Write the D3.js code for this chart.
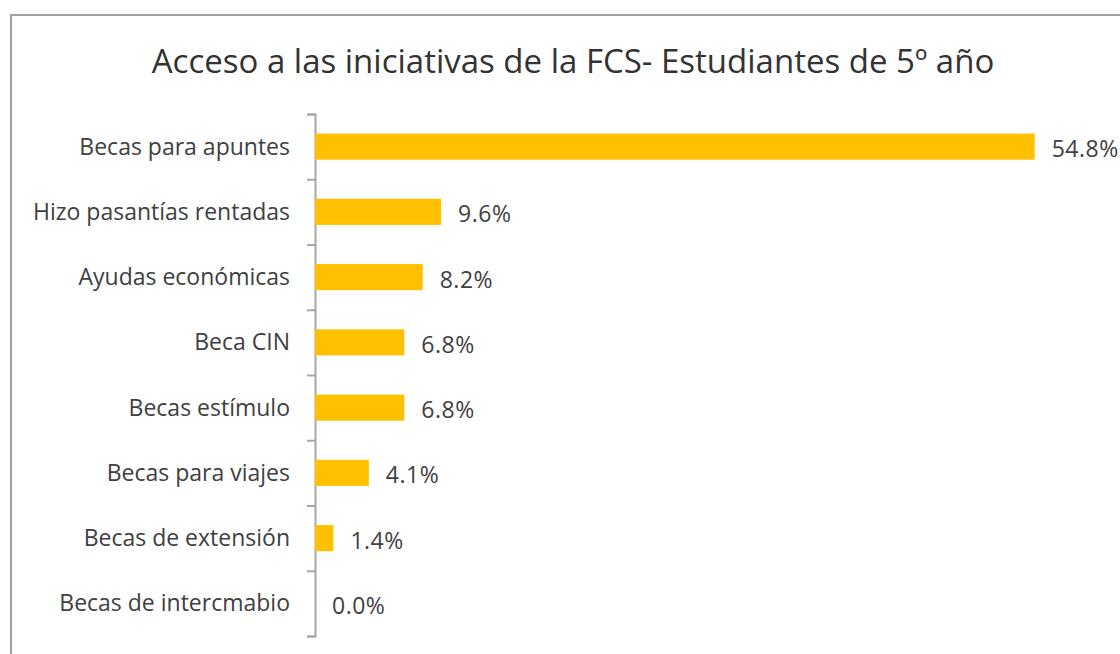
<!DOCTYPE html>
<html>
<head>
<meta charset="utf-8">
<script src="https://cdn.jsdelivr.net/npm/d3@7"></script>
<style>
  body { margin: 0; background: #fff; }
</style>
</head>
<body>
<div id="chart"></div>
<script>
'use strict'

var categories = [
  'Becas para apuntes',
  'Hizo pasantías rentadas',
  'Ayudas económicas',
  'Beca CIN',
  'Becas estímulo',
  'Becas para viajes',
  'Becas de extensión',
  'Becas de intercmabio'
]
var values = [54.8, 9.6, 8.2, 6.8, 6.8, 4.1, 1.4, 0.0]
var title = 'Acceso a las iniciativas de la FCS- Estudiantes de 5º año'

var width = 1120
var height = 654
var fontFam = "'Open Sans', 'DejaVu Sans', sans-serif"
var textColor = '#404040'

var svg = d3
  .select('#chart')
  .append('svg')
  .attr('width', width)
  .attr('height', height)

// frame
svg
  .append('rect')
  .attr('x', 11)
  .attr('y', 15)
  .attr('width', width + 20)
  .attr('height', height + 20)
  .attr('fill', 'none')
  .attr('stroke', '#a0a0a0')
  .attr('stroke-width', 2)

svg
  .append('text')
  .attr('x', 573)
  .attr('y', 73)
  .attr('text-anchor', 'middle')
  .attr('font-family', fontFam)
  .attr('font-size', '33px')
  .attr('fill', '#333333')
  .text(title)

var x = d3.scaleLinear().domain([0, 60]).range([315, 315 + 788])

var y = d3
  .scaleBand()
  .domain(categories)
  .range([114, 636])
  .paddingInner(0.6)
  .paddingOuter(0.3)

// axis with ticks at band boundaries
var yBound = d3
  .scaleLinear()
  .domain([0, categories.length])
  .range([114, 636])

var axisG = svg.append('g').attr('transform', 'translate(315,0)')
axisG
  .call(
    d3
      .axisLeft(yBound)
      .ticks(categories.length)
      .tickSize(8)
      .tickFormat('')
  )
axisG.select('.domain').attr('stroke', '#a6a6a6').attr('stroke-width', 2)
axisG.selectAll('.tick line').attr('stroke', '#a6a6a6').attr('stroke-width', 2)

svg
  .selectAll('.cat')
  .data(categories)
  .enter()
  .append('text')
  .attr('class', 'cat')
  .attr('x', 290)
  .attr('y', function(d) {
    return y(d) + y.bandwidth() / 2
  })
  .attr('dy', '0.35em')
  .attr('text-anchor', 'end')
  .attr('font-family', fontFam)
  .attr('font-size', '23px')
  .attr('fill', textColor)
  .text(function(d) {
    return d
  })

var bar = svg
  .selectAll('.bar')
  .data(values)
  .enter()
  .append('g')
  .attr('class', 'bar')

bar
  .append('rect')
  .attr('x', x(0))
  .attr('y', function(d, i) {
    return y(categories[i])
  })
  .attr('width', function(d) {
    return x(d) - x(0)
  })
  .attr('height', y.bandwidth())
  .attr('fill', '#ffc000')

bar
  .append('text')
  .attr('x', function(d) {
    return x(d) + 17
  })
  .attr('y', function(d, i) {
    return y(categories[i]) + y.bandwidth() / 2 + 2.5
  })
  .attr('dy', '0.35em')
  .attr('font-family', fontFam)
  .attr('font-size', '23px')
  .attr('letter-spacing', '0.5px')
  .attr('fill', textColor)
  .text(function(d) {
    return d.toFixed(1) + '%'
  })
</script>
</body>
</html>
